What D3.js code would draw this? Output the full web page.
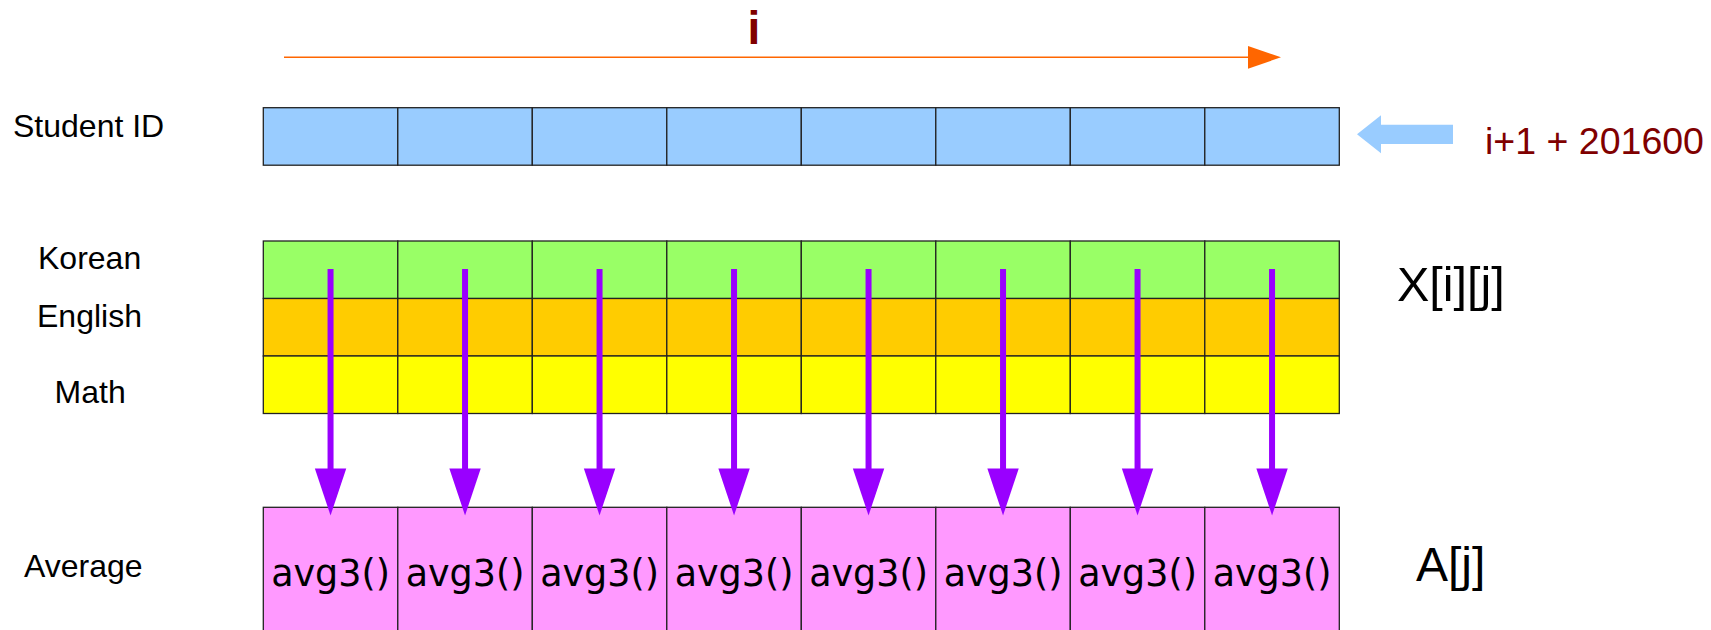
<!DOCTYPE html>
<html>
<head>
<meta charset="utf-8">
<script src="https://cdn.jsdelivr.net/npm/d3@7"></script>
<style>
  body { margin: 0; background: #fff; }
  text { font-family: "Liberation Sans", Arial, sans-serif; }
</style>
</head>
<body>
<div id="chart"></div>
<script>
// data
var students = [0, 1, 2, 3, 4, 5, 6, 7];
var subjects = ["Korean", "English", "Math"];
var subjectColors = ["#99ff66", "#ffcc00", "#ffff00"];
var avgLabels = ["avg3()", "avg3()", "avg3()", "avg3()", "avg3()", "avg3()", "avg3()", "avg3()"];
var idFormula = "i+1 + 201600";

var svgWidth = 1711;
var svgHeight = 630;

var svg = d3.select("#chart")
  .append("svg")
  .attr("width", svgWidth)
  .attr("height", svgHeight);

// column scale shared by every row
var xScale = d3.scaleBand()
  .domain(students)
  .range([263.3, 1339.3]);

var rowH = 57.5;

// subject rows
var yScale = d3.scaleBand()
  .domain(subjects)
  .range([241, 241 + rowH * subjects.length]);

// --- index arrow "i" ---
svg.append("line")
  .attr("x1", 284).attr("x2", 1250)
  .attr("y1", 57.3).attr("y2", 57.3)
  .attr("stroke", "#ff6600")
  .attr("stroke-width", 1.6);

svg.append("path")
  .attr("d", "M1248,46 L1281,57.3 L1248,68.7 Z")
  .attr("fill", "#ff6600");

svg.append("text")
  .attr("x", 754).attr("y", 44.3)
  .attr("text-anchor", "middle")
  .attr("font-size", 46)
  .attr("font-weight", "bold")
  .attr("fill", "#800000")
  .text("i");

// --- student id row ---
svg.append("g").selectAll("rect")
  .data(students)
  .enter()
  .append("rect")
  .attr("x", d => xScale(d))
  .attr("y", 107.7)
  .attr("width", xScale.bandwidth())
  .attr("height", rowH)
  .attr("fill", "#99ccff")
  .attr("stroke", "#222")
  .attr("stroke-width", 1.3);

svg.append("text")
  .attr("x", 13).attr("y", 136.7)
  .attr("font-size", 32)
  .attr("fill", "#000")
  .text("Student ID");

// light blue arrow pointing at the id row
svg.append("path")
  .attr("d", "M1357,134.3 L1381,115.3 L1381,124.7 L1453,124.7 L1453,144 L1381,144 L1381,153.3 Z")
  .attr("fill", "#99ccff");

svg.append("text")
  .attr("x", 1485).attr("y", 153.5)
  .attr("font-size", 37.5)
  .attr("fill", "#800000")
  .text(idFormula);

// --- score rows ---
var cells = [];
subjects.forEach(function(s, si) {
  students.forEach(function(st) {
    cells.push({ subject: s, student: st, color: subjectColors[si] });
  });
});

svg.append("g").selectAll("rect")
  .data(cells)
  .enter()
  .append("rect")
  .attr("x", d => xScale(d.student))
  .attr("y", d => yScale(d.subject))
  .attr("width", xScale.bandwidth())
  .attr("height", yScale.bandwidth())
  .attr("fill", d => d.color)
  .attr("stroke", "#222")
  .attr("stroke-width", 1.3);

// row labels (baselines)
var labelPos = { Korean: [38, 269.3], English: [37, 327.3], Math: [54.6, 403.3] };
svg.append("g").selectAll("text")
  .data(subjects)
  .enter()
  .append("text")
  .attr("x", d => labelPos[d][0])
  .attr("y", d => labelPos[d][1])
  .attr("font-size", 32)
  .attr("fill", "#000")
  .text(d => d);

svg.append("text")
  .attr("x", 1397).attr("y", 301)
  .attr("font-size", 48.5)
  .attr("fill", "#000")
  .text("X[i][j]");

// --- average row ---
var avgTop = 507.3;

svg.append("g").selectAll("rect")
  .data(students)
  .enter()
  .append("rect")
  .attr("x", d => xScale(d))
  .attr("y", avgTop)
  .attr("width", xScale.bandwidth())
  .attr("height", 140)
  .attr("fill", "#ff99ff")
  .attr("stroke", "#222")
  .attr("stroke-width", 1.3);

svg.append("g").selectAll("text")
  .data(avgLabels)
  .enter()
  .append("text")
  .attr("x", (d, i) => xScale(students[i]) + xScale.bandwidth() / 2)
  .attr("y", 586)
  .attr("text-anchor", "middle")
  .style("font-family", "'DejaVu Sans', sans-serif")
  .attr("font-size", 36.5)
  .attr("fill", "#000")
  .text(d => d);

svg.append("text")
  .attr("x", 24).attr("y", 576.7)
  .attr("font-size", 32)
  .attr("fill", "#000")
  .text("Average");

svg.append("text")
  .attr("x", 1416).attr("y", 581)
  .attr("font-size", 48)
  .attr("fill", "#000")
  .text("A[j]");

// --- purple arrows, one per column ---
var arrows = svg.append("g");

arrows.selectAll("line")
  .data(students)
  .enter()
  .append("line")
  .attr("x1", d => xScale(d) + xScale.bandwidth() / 2)
  .attr("x2", d => xScale(d) + xScale.bandwidth() / 2)
  .attr("y1", 269)
  .attr("y2", 470)
  .attr("stroke", "#9900ff")
  .attr("stroke-width", 6);

arrows.selectAll("path")
  .data(students)
  .enter()
  .append("path")
  .attr("d", function(d) {
    var cx = xScale(d) + xScale.bandwidth() / 2;
    return "M" + (cx - 15.7) + ",468.5 L" + (cx + 15.7) + ",468.5 L" + cx + ",515.5 Z";
  })
  .attr("fill", "#9900ff");
</script>
</body>
</html>
